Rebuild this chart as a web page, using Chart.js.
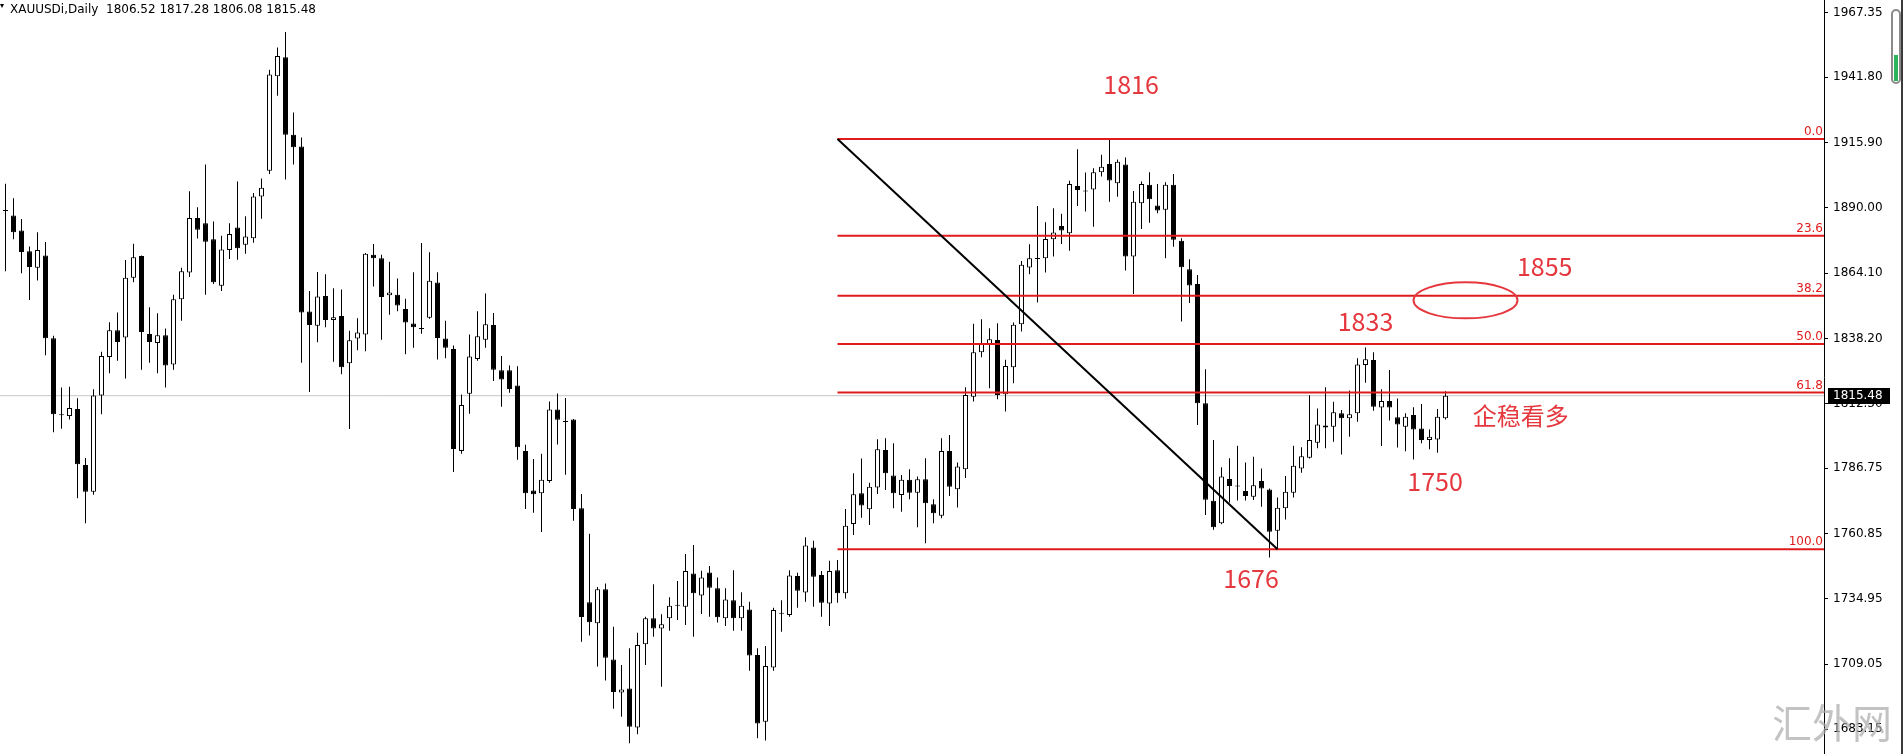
<!DOCTYPE html>
<html>
<head>
<meta charset="utf-8">
<title>XAUUSDi Daily</title>
<script src="https://cdn.jsdelivr.net/npm/chart.js@4.4.1/dist/chart.umd.min.js"></script>
<style>
  html, body { margin: 0; padding: 0; background: #fff; overflow: hidden; }
  #chart { display: block; }
</style>
</head>
<body>
<canvas id="chart" width="1903" height="754"></canvas>
<script>
// XAUUSDi daily candles (oldest -> newest)
const opens = [
  1888.9, 1887.0, 1881.0, 1872.8, 1866.2, 1871.1, 1838.3, 1808.0, 1807.4, 1810.2,
  1788.0, 1777.4, 1815.6, 1830.8, 1841.4, 1838.6, 1862.3, 1870.9, 1840.0, 1836.4,
  1839.5, 1827.9, 1853.7, 1864.3, 1886.0, 1883.9, 1877.5, 1859.1, 1873.3, 1882.2,
  1875.4, 1877.9, 1894.5, 1904.7, 1942.2, 1949.7, 1919.0, 1914.3, 1848.9, 1843.2,
  1855.0, 1845.5, 1847.1, 1828.4, 1838.2, 1839.8, 1871.4, 1870.0, 1855.3, 1855.5,
  1849.9, 1844.1, 1842.2, 1846.4, 1860.4, 1838.2, 1834.0, 1793.6, 1816.3, 1830.0,
  1837.7, 1843.5, 1825.6, 1825.6, 1819.5, 1793.6, 1777.9, 1776.8, 1781.7, 1810.0,
  1805.4, 1806.0, 1770.8, 1733.6, 1725.2, 1738.7, 1710.9, 1697.8, 1699.4, 1683.9,
  1716.9, 1727.2, 1723.2, 1727.2, 1732.5, 1731.8, 1745.0, 1736.2, 1745.4, 1739.1,
  1727.2, 1734.4, 1727.2, 1730.7, 1712.6, 1686.2, 1707.7, 1729.2, 1728.5, 1744.0,
  1737.4, 1755.3, 1744.4, 1733.1, 1746.3, 1737.1, 1764.6, 1776.8, 1770.4, 1779.1,
  1793.9, 1783.8, 1776.1, 1782.1, 1777.0, 1782.3, 1772.4, 1767.9, 1793.6, 1778.4,
  1786.3, 1815.1, 1832.7, 1835.6, 1837.6, 1816.1, 1826.8, 1843.8, 1866.3, 1870.0,
  1870.0, 1877.5, 1882.8, 1879.9, 1898.7, 1896.8, 1897.3, 1904.1, 1907.4, 1899.7,
  1907.2, 1870.7, 1891.8, 1899.1, 1890.9, 1889.2, 1899.1, 1876.9, 1865.6, 1859.8,
  1812.5, 1773.8, 1764.9, 1782.4, 1779.8, 1777.7, 1775.4, 1781.7, 1778.3, 1761.9,
  1770.8, 1777.0, 1786.6, 1790.9, 1796.8, 1803.7, 1803.2, 1808.5, 1806.5, 1808.5,
  1827.7, 1829.6, 1810.8, 1813.4, 1806.9, 1803.2, 1807.8, 1802.5, 1797.9, 1798.1,
  1806.52
];
const highs = [
  1899.5, 1893.8, 1885.6, 1874.7, 1880.3, 1876.4, 1839.3, 1818.7, 1819.0, 1814.5,
  1790.8, 1818.0, 1832.9, 1844.6, 1848.5, 1869.3, 1875.7, 1871.1, 1850.6, 1848.2,
  1842.1, 1855.5, 1866.2, 1896.6, 1890.2, 1907.2, 1884.6, 1878.9, 1883.9, 1900.4,
  1886.7, 1895.9, 1901.6, 1944.8, 1953.6, 1959.7, 1927.8, 1917.9, 1857.0, 1864.5,
  1863.7, 1858.1, 1857.6, 1841.2, 1846.2, 1872.1, 1875.6, 1871.4, 1868.6, 1862.0,
  1853.9, 1864.4, 1876.0, 1872.4, 1864.4, 1845.2, 1835.4, 1816.0, 1839.8, 1849.0,
  1856.0, 1848.3, 1831.2, 1827.5, 1827.2, 1796.0, 1790.4, 1792.5, 1813.2, 1816.4,
  1814.6, 1806.2, 1776.5, 1760.7, 1739.6, 1741.0, 1723.8, 1708.7, 1715.3, 1721.5,
  1727.8, 1740.7, 1728.8, 1735.5, 1742.0, 1752.7, 1756.3, 1746.1, 1747.9, 1743.4,
  1739.1, 1746.3, 1737.5, 1733.8, 1715.3, 1716.2, 1731.4, 1734.4, 1746.3, 1745.3,
  1759.3, 1758.0, 1746.0, 1750.0, 1750.3, 1770.5, 1784.7, 1790.6, 1781.0, 1798.2,
  1798.6, 1796.6, 1784.0, 1786.3, 1783.4, 1790.7, 1774.4, 1798.6, 1799.9, 1789.0,
  1818.8, 1844.0, 1845.8, 1842.2, 1844.2, 1829.7, 1844.5, 1868.9, 1875.5, 1890.7,
  1884.3, 1889.8, 1887.6, 1900.7, 1913.2, 1904.0, 1905.7, 1911.0, 1916.9, 1909.2,
  1910.0, 1896.7, 1900.4, 1904.1, 1899.4, 1900.1, 1903.4, 1877.9, 1869.6, 1863.4,
  1826.0, 1797.9, 1787.1, 1790.7, 1795.6, 1789.0, 1791.3, 1786.6, 1778.7, 1775.1,
  1783.6, 1795.6, 1795.0, 1815.7, 1810.4, 1818.8, 1813.1, 1809.8, 1817.5, 1830.3,
  1834.6, 1832.7, 1818.0, 1825.7, 1814.4, 1808.5, 1810.9, 1812.2, 1802.1, 1810.2,
  1817.28
];
const lows = [
  1864.8, 1877.5, 1864.0, 1853.4, 1861.2, 1831.5, 1801.0, 1802.4, 1806.0, 1774.8,
  1764.9, 1776.2, 1808.1, 1824.4, 1829.3, 1822.3, 1860.5, 1825.8, 1828.6, 1824.4,
  1818.7, 1825.8, 1845.2, 1862.6, 1877.8, 1855.5, 1859.8, 1857.0, 1869.7, 1869.4,
  1871.8, 1876.1, 1885.7, 1903.4, 1934.4, 1901.2, 1907.2, 1828.6, 1817.0, 1836.7,
  1842.6, 1828.9, 1824.0, 1802.3, 1833.5, 1833.1, 1858.8, 1837.7, 1847.6, 1849.0,
  1831.9, 1834.5, 1840.1, 1846.0, 1829.8, 1830.3, 1785.2, 1792.5, 1808.3, 1829.3,
  1834.5, 1821.3, 1811.1, 1816.7, 1790.1, 1770.5, 1769.1, 1761.4, 1781.0, 1796.1,
  1784.1, 1765.9, 1717.9, 1720.4, 1708.1, 1702.5, 1691.3, 1688.2, 1677.6, 1681.2,
  1708.7, 1719.9, 1700.1, 1722.3, 1726.5, 1724.5, 1719.9, 1728.9, 1727.8, 1725.5,
  1724.1, 1722.3, 1722.3, 1706.4, 1679.6, 1678.7, 1706.4, 1721.9, 1727.8, 1731.4,
  1733.8, 1731.8, 1727.8, 1724.1, 1733.4, 1735.1, 1760.2, 1767.1, 1764.2, 1776.5,
  1778.1, 1770.8, 1769.5, 1774.4, 1763.3, 1757.0, 1764.9, 1766.9, 1775.7, 1771.1,
  1782.8, 1813.2, 1830.7, 1818.4, 1814.1, 1809.2, 1820.4, 1840.9, 1863.7, 1852.4,
  1864.3, 1870.7, 1875.6, 1873.0, 1890.7, 1888.5, 1882.5, 1902.4, 1892.4, 1894.4,
  1865.1, 1855.8, 1881.6, 1884.1, 1887.8, 1870.0, 1874.6, 1844.9, 1852.2, 1803.9,
  1768.2, 1762.3, 1764.5, 1773.1, 1773.9, 1773.9, 1774.1, 1771.4, 1751.3, 1754.5,
  1766.4, 1775.1, 1784.9, 1790.6, 1794.6, 1794.6, 1797.2, 1792.2, 1799.2, 1805.2,
  1820.6, 1809.5, 1795.5, 1805.6, 1794.9, 1793.5, 1790.2, 1796.6, 1794.2, 1792.9,
  1806.08
];
const closes = [
  1888.7, 1880.3, 1872.5, 1866.5, 1873.3, 1838.3, 1808.1, 1807.7, 1810.6, 1788.3,
  1777.4, 1815.6, 1831.2, 1841.4, 1836.8, 1862.3, 1870.4, 1840.7, 1836.8, 1839.5,
  1827.5, 1853.7, 1864.8, 1886.0, 1881.3, 1876.5, 1860.5, 1873.5, 1879.6, 1874.0,
  1878.6, 1894.5, 1898.0, 1942.9, 1950.2, 1919.0, 1914.0, 1848.5, 1843.5, 1854.8,
  1845.5, 1846.6, 1826.8, 1837.5, 1840.5, 1871.8, 1870.0, 1854.6, 1856.4, 1851.3,
  1844.5, 1842.6, 1841.9, 1861.1, 1838.4, 1834.5, 1794.3, 1811.8, 1831.0, 1839.1,
  1843.8, 1825.8, 1821.9, 1818.1, 1795.0, 1776.8, 1776.4, 1782.1, 1810.0, 1805.9,
  1805.1, 1770.5, 1727.7, 1725.6, 1738.7, 1711.6, 1698.0, 1699.0, 1684.2, 1716.6,
  1727.2, 1723.2, 1724.8, 1732.2, 1732.2, 1746.0, 1737.1, 1743.4, 1739.3, 1727.6,
  1734.7, 1727.2, 1732.2, 1712.4, 1685.5, 1708.3, 1730.5, 1729.0, 1744.2, 1738.1,
  1756.1, 1743.7, 1733.4, 1746.0, 1737.1, 1763.9, 1776.4, 1771.9, 1779.4, 1794.2,
  1784.7, 1776.8, 1782.1, 1777.0, 1782.3, 1772.8, 1768.9, 1793.6, 1779.4, 1787.4,
  1815.8, 1832.7, 1836.3, 1837.9, 1815.8, 1827.3, 1843.6, 1867.4, 1870.0, 1869.7,
  1877.6, 1880.2, 1881.0, 1899.4, 1897.1, 1896.5, 1904.1, 1906.3, 1900.8, 1908.3,
  1870.7, 1892.4, 1899.4, 1893.4, 1888.9, 1899.1, 1877.3, 1866.4, 1859.2, 1812.5,
  1774.2, 1763.3, 1783.4, 1779.7, 1779.5, 1775.7, 1780.0, 1778.7, 1761.5, 1771.0,
  1777.4, 1787.7, 1791.5, 1797.9, 1804.1, 1802.9, 1808.9, 1806.5, 1808.1, 1827.9,
  1829.9, 1811.1, 1813.4, 1810.8, 1804.1, 1807.1, 1802.1, 1797.9, 1799.2, 1807.1,
  1815.48
];

const symbolLabel = 'XAUUSDi,Daily';
const priceTicks = [1967.35, 1941.80, 1915.90, 1890.00, 1864.10, 1838.20,
  1812.30, 1786.75, 1760.85, 1734.95, 1709.05, 1683.15];
const lastPrice = 1815.48;

// visible window of the terminal (bars / price)
const X_MIN = -0.6875, X_MAX = 227.3125;
const Y_MIN = 1673.38, Y_MAX = 1972.42;

// fibonacci retracement, swing high -> swing low
const fibLevels = [0.0, 23.6, 38.2, 50.0, 61.8, 100.0];
const fibHigh = 1917.3;
const fibLow = 1754.6;
const fibStartBar = 104;

// hand drawn trend line
const trendBars = [104, 159];
const trendPrices = [1917.3, 1754.6];

// red notes written on the chart
const noteTexts = ['1816', '1855', '1833', '企稳看多', '1750', '1676'];
const noteBars = [140.7, 192.4, 170.0, 189.4, 178.7, 155.7];
const notePrices = [1939.0, 1866.9, 1845.1, 1807.4, 1781.6, 1742.8];
const ringBar = 182.5, ringPrice = 1853.3;

const RED_LINE = '#e01b1b';
const RED_NOTE = '#e5383e';

const fibPrice = lvl => fibHigh - (fibHigh - fibLow) * lvl / 100;

const idx = opens.map((_, i) => i);
const wickData = idx.map(i => ({ x: i, y: [lows[i], highs[i]] }));
const bodyData = idx.map(i => ({ x: i, y: [opens[i], closes[i]] }));
const bodyFill = idx.map(i => closes[i] > opens[i] ? '#ffffff' : '#000000');

const fibSets = fibLevels.map(lvl => ({
  type: 'line',
  data: [{ x: fibStartBar, y: fibPrice(lvl) }, { x: X_MAX, y: fibPrice(lvl) }],
  borderColor: RED_LINE,
  borderWidth: 2,
  pointRadius: 0,
  tension: 0,
  order: 1
}));

const overlay = {
  id: 'overlay',
  beforeDraw(chart) {
    const ctx = chart.ctx;
    ctx.save();
    ctx.fillStyle = '#fff';
    ctx.fillRect(0, 0, chart.width, chart.height);
    ctx.restore();
  },
  afterDraw(chart) {
    const { ctx, chartArea: area, scales: { x, y } } = chart;
    ctx.save();

    // fib level captions
    ctx.font = '12px "DejaVu Sans"';
    ctx.fillStyle = RED_LINE;
    ctx.textAlign = 'right';
    ctx.textBaseline = 'bottom';
    fibLevels.forEach(lvl => {
      ctx.fillText(lvl.toFixed(1), area.right - 1, y.getPixelForValue(fibPrice(lvl)) - 1);
    });

    // last price marker on the axis
    const py = y.getPixelForValue(lastPrice);
    ctx.fillStyle = '#000';
    ctx.fillRect(area.right + 4, Math.round(py) - 8, 62, 16);
    ctx.fillStyle = '#fff';
    ctx.textAlign = 'left';
    ctx.textBaseline = 'middle';
    ctx.fillText(lastPrice.toFixed(2), area.right + 9, py);

    // header
    const n = opens.length - 1;
    ctx.fillStyle = '#000';
    ctx.textBaseline = 'alphabetic';
    ctx.fillText(symbolLabel + '  ' + [opens[n], highs[n], lows[n], closes[n]].map(v => v.toFixed(2)).join(' '), 10, 13);
    ctx.beginPath();
    ctx.moveTo(0, 4); ctx.lineTo(4, 4); ctx.lineTo(2, 8); ctx.closePath();
    ctx.fill();

    // notes
    ctx.fillStyle = RED_NOTE;
    ctx.textAlign = 'center';
    ctx.textBaseline = 'middle';
    noteTexts.forEach((t, i) => {
      ctx.font = (/^\d+$/.test(t) ? '25px' : '24px') + ' "Noto Sans CJK SC"';
      ctx.fillText(t, x.getPixelForValue(noteBars[i]), y.getPixelForValue(notePrices[i]));
    });
    ctx.strokeStyle = RED_NOTE;
    ctx.lineWidth = 2;
    ctx.beginPath();
    ctx.ellipse(x.getPixelForValue(ringBar), y.getPixelForValue(ringPrice), 52, 18, 0, 0, Math.PI * 2);
    ctx.stroke();

    // watermark
    ctx.fillStyle = 'rgba(170,170,170,0.7)';
    ctx.font = '40px "Noto Sans CJK SC"';
    ctx.fillText('汇外网', 1832, 723);

    // scroll gauge + window edge
    ctx.strokeStyle = '#8a8a8a';
    ctx.lineWidth = 2;
    ctx.beginPath();
    ctx.roundRect(1892, 10, 8, 73, 4);
    ctx.stroke();
    ctx.fillStyle = '#2bb45c';
    ctx.fillRect(1894, 55, 4, 26);
    ctx.fillStyle = '#3a3a3a';
    ctx.fillRect(1901, 0, 2, chart.height);
    ctx.restore();
  }
};

new Chart(document.getElementById('chart'), {
  type: 'bar',
  data: {
    datasets: [
      {
        type: 'line',
        data: [{ x: X_MIN, y: lastPrice }, { x: X_MAX, y: lastPrice }],
        borderColor: '#c6c6c6',
        borderWidth: 1,
        pointRadius: 0,
        order: 10
      },
      {
        data: wickData,
        backgroundColor: '#000',
        borderWidth: 0,
        barThickness: 1,
        grouped: false,
        inflateAmount: 0,
        order: 5
      },
      {
        data: bodyData,
        backgroundColor: bodyFill,
        borderColor: '#000',
        borderWidth: 1,
        borderSkipped: false,
        barThickness: 5,
        minBarLength: 1,
        grouped: false,
        inflateAmount: 0,
        order: 4
      },
      ...fibSets,
      {
        type: 'line',
        data: trendBars.map((b, i) => ({ x: b, y: trendPrices[i] })),
        borderColor: '#000',
        borderWidth: 2,
        pointRadius: 0,
        order: 0
      }
    ]
  },
  options: {
    responsive: false,
    animation: false,
    devicePixelRatio: 1,
    layout: { padding: 0, autoPadding: false },
    plugins: { legend: { display: false }, tooltip: { enabled: false } },
    scales: {
      x: {
        type: 'linear',
        display: false,
        offset: false,
        bounds: 'data',
        grid: { offset: false },
        min: X_MIN,
        max: X_MAX,
        afterDataLimits(scale) { scale.min = X_MIN; scale.max = X_MAX; },
        afterFit(scale) { scale.paddingLeft = 0; scale.paddingRight = 0; }
      },
      y: {
        type: 'linear',
        position: 'right',
        bounds: 'data',
        min: Y_MIN,
        max: Y_MAX,
        afterDataLimits(scale) { scale.min = Y_MIN; scale.max = Y_MAX; },
        afterFit(scale) {
          scale.width = 79;
          scale.paddingTop = 0;
          scale.paddingBottom = 0;
        },
        afterBuildTicks(scale) { scale.ticks = priceTicks.map(v => ({ value: v })); },
        ticks: {
          autoSkip: false,
          padding: 5,
          color: '#000',
          font: { family: 'DejaVu Sans', size: 12 },
          callback: v => v.toFixed(2)
        },
        grid: { drawOnChartArea: false, drawTicks: true, tickLength: 4, color: '#000' },
        border: { display: true, color: '#000' }
      }
    }
  },
  plugins: [overlay]
});
</script>
</body>
</html>
